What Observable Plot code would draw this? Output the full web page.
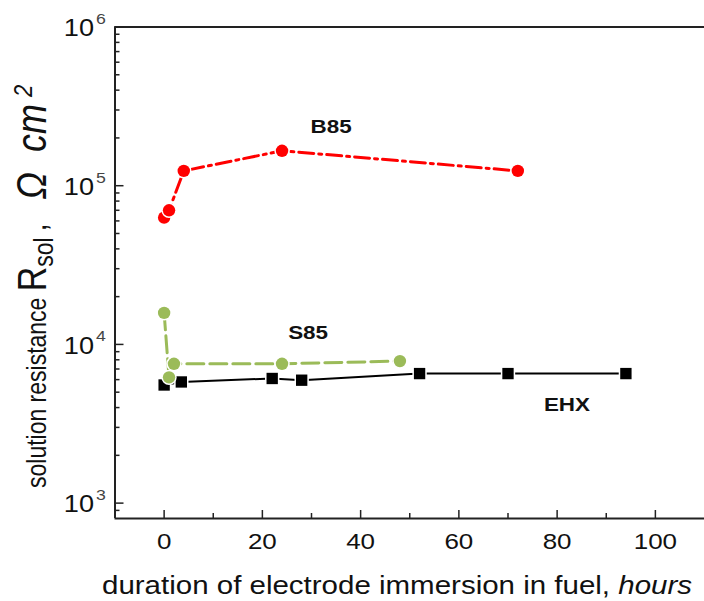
<!DOCTYPE html>
<html>
<head>
<meta charset="utf-8">
<script src="https://cdn.jsdelivr.net/npm/d3@7"></script>
<script src="https://cdn.jsdelivr.net/npm/@observablehq/plot@0.6"></script>
<style>
  body { margin: 0; background: #fff; }
  #chart svg { display: block; font-family: "Liberation Sans", Arial, sans-serif; }
</style>
</head>
<body>
<div id="chart"></div>
<script>
// Solution resistance vs. immersion time for three fuels
const ehxHours = [0, 3.5, 22, 28, 52, 70, 94];
const ehxRsol  = [5550, 5800, 6100, 5950, 6550, 6550, 6550];

const s85Hours = [0, 1, 2, 24, 48];
const s85Rsol  = [15800, 6200, 7550, 7550, 7850];

const b85Hours = [0, 1, 4, 24, 72];
const b85Rsol  = [63000, 70000, 124000, 166000, 124000];

// Series labels placed next to their curves
const seriesNames = ["EHX", "S85", "B85"];
const labelHours  = [82, 29.3, 34];
const labelRsol   = [4130, 11900, 233000];

// Axis ticks
const xMajorTicks = [0, 20, 40, 60, 80, 100];
const xMinorTicks = [10, 30, 50, 70, 90];
const yMajorTicks = [1e3, 1e4, 1e5, 1e6];
const yExponents  = ["3", "4", "5", "6"];
const yMinorTicks = [900,
  2e3, 3e3, 4e3, 5e3, 6e3, 7e3, 8e3, 9e3,
  2e4, 3e4, 4e4, 5e4, 6e4, 7e4, 8e4, 9e4,
  2e5, 3e5, 4e5, 5e5, 6e5, 7e5, 8e5, 9e5];

const toRows = (hours, rsol) => hours.map((h, i) => ({hours: h, rsol: rsol[i]}));
const ehx = toRows(ehxHours, ehxRsol);
const s85 = toRows(s85Hours, s85Rsol);
const b85 = toRows(b85Hours, b85Rsol);
const labels = seriesNames.map((name, i) => ({name, hours: labelHours[i], rsol: labelRsol[i]}));

const W = 704, H = 601;
const mL = 114.5, mR = 0, mT = 26.5, mB = 83;
const plotW = W - mL - mR, plotH = H - mT - mB;
const axisColor = "#222";
const wide = 1.18; // horizontal widening of the lettering

const chart = Plot.plot({
  width: W,
  height: H,
  marginLeft: mL,
  marginRight: mR,
  marginTop: mT,
  marginBottom: mB,
  x: {domain: [-10, 110], axis: null},
  y: {type: "log", domain: [800, 1e6], axis: null},
  marks: [
    // frame lines: left, bottom, top
    Plot.ruleX([-10], {stroke: axisColor, strokeWidth: 2}),
    Plot.ruleY([800], {stroke: axisColor, strokeWidth: 2}),
    Plot.ruleY([1e6], {stroke: axisColor, strokeWidth: 2}),
    // inward ticks
    Plot.ruleX(xMajorTicks, {x: d => d, insetTop: plotH - 8, stroke: axisColor, strokeWidth: 1.5}),
    Plot.ruleX(xMinorTicks, {x: d => d, insetTop: plotH - 5, stroke: axisColor, strokeWidth: 1.5}),
    Plot.ruleY(yMajorTicks, {y: d => d, insetRight: plotW - 9, stroke: axisColor, strokeWidth: 1.5}),
    Plot.ruleY(yMinorTicks, {y: d => d, insetRight: plotW - 5, stroke: axisColor, strokeWidth: 1.5}),
    // tick labels
    Plot.text(xMajorTicks, {x: d => d, y: 800, text: d => String(d), dy: 23, fontSize: 22, fill: "#111"}),
    Plot.text(yMajorTicks, {x: -10, y: d => d, text: () => "10", textAnchor: "end", dx: -21, dy: 2, fontSize: 23, fill: "#111"}),
    Plot.text(yMajorTicks, {x: -10, y: d => d, text: (d, i) => yExponents[i], textAnchor: "start", dx: -19, dy: -8, fontSize: 15, fill: "#444"}),
    // EHX
    Plot.line(ehx, {x: "hours", y: "rsol", stroke: "#000", strokeWidth: 2}),
    Plot.dot(ehx, {x: "hours", y: "rsol", symbol: "square", r: 6.4, fill: "#000", stroke: "#fff", strokeWidth: 3, paintOrder: "stroke"}),
    // S85
    Plot.line(s85, {x: "hours", y: "rsol", stroke: "#9bbb59", strokeWidth: 3, strokeDasharray: "17,6"}),
    Plot.dot(s85, {x: "hours", y: "rsol", r: 6.2, fill: "#9bbb59", stroke: "#fff", strokeWidth: 3, paintOrder: "stroke"}),
    // B85
    Plot.line(b85, {x: "hours", y: "rsol", stroke: "#ff0000", strokeWidth: 3, strokeDasharray: "15,5,3,5"}),
    Plot.dot(b85, {x: "hours", y: "rsol", r: 6.2, fill: "#ff0000", stroke: "#fff", strokeWidth: 3, paintOrder: "stroke"}),
    // series labels
    Plot.text(labels, {x: "hours", y: "rsol", text: "name", fontSize: 19, fontWeight: "bold", fill: "#111"})
  ]
});

const svg = d3.select(chart);

// widen every text glyph horizontally about its anchor point
svg.selectAll("text").each(function () {
  const t = this.getAttribute("transform");
  if (t) {
    this.setAttribute("transform", `${t} scale(${wide},1)`);
  } else {
    const x = +this.getAttribute("x") || 0, y = +this.getAttribute("y") || 0;
    this.setAttribute("x", 0);
    this.setAttribute("y", 0);
    this.setAttribute("transform", `translate(${x},${y}) scale(${wide},1)`);
  }
});

// x-axis title
const xt = svg.append("text")
  .attr("transform", `translate(102,594) scale(${wide},1)`)
  .attr("text-anchor", "start")
  .attr("font-size", 25).attr("fill", "#111");
xt.append("tspan").text("duration of electrode immersion in fuel, ");
xt.append("tspan").attr("font-style", "italic").text("hours");

// y-axis title (rotated, glyphs widened across the baseline)
const yt = svg.append("g")
  .attr("transform", "translate(46,488) rotate(-90)")
  .append("text")
  .attr("transform", "scale(1,1.2)")
  .attr("text-anchor", "start")
  .attr("font-size", 23).attr("fill", "#111");
yt.append("tspan").text("solution resistance ");
yt.append("tspan").attr("font-size", 34).text("R");
yt.append("tspan").attr("font-size", 23).attr("dy", 6).text("sol");
yt.append("tspan").attr("font-size", 28).attr("dy", -6).attr("dx", 6).text(",");
yt.append("tspan").attr("font-style", "italic").attr("font-size", 36).attr("dx", 24).text("\u03A9");
yt.append("tspan").attr("font-style", "italic").attr("font-size", 36).attr("dx", 20).text("cm");
yt.append("tspan").attr("font-style", "italic").attr("font-size", 22).attr("dx", 7).attr("dy", -12).text("2");

document.getElementById("chart").appendChild(chart);
</script>
</body>
</html>
